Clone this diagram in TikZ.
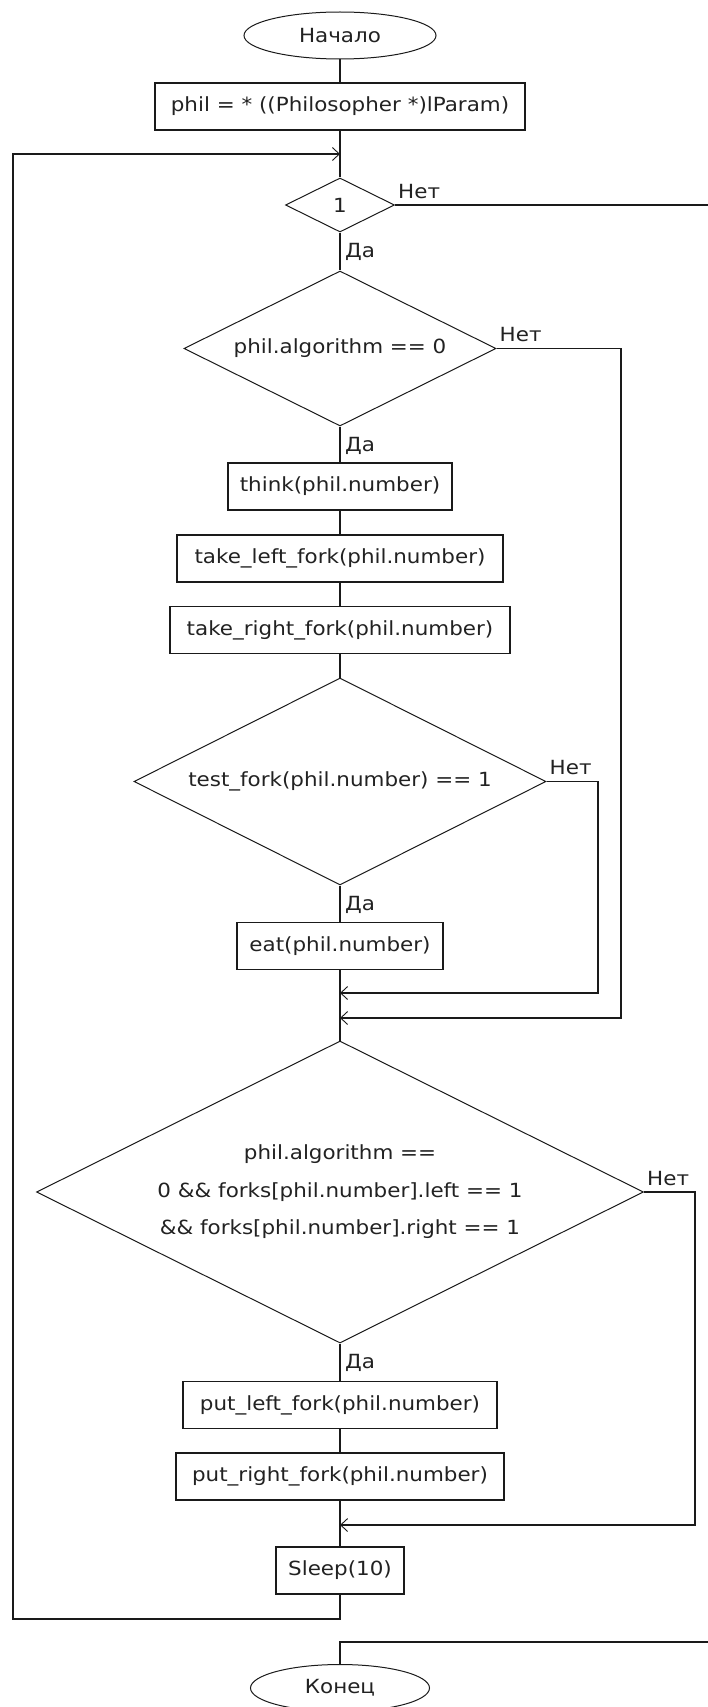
\documentclass[tikz,border=0pt]{standalone}
\usepackage{fontspec}
\setmainfont{DejaVu Sans}[FakeStretch=1.1]
\usetikzlibrary{shapes.geometric,arrows.meta}
\definecolor{linec}{HTML}{1A1A1A}
\definecolor{txtc}{HTML}{222222}
\newcommand{\flowfont}{\fontsize{19.5}{37.5}\selectfont}
\tikzset{
  base/.style={draw=linec, text=txtc, font=\flowfont, line width=1.2pt},
  stepbox/.style={base, rectangle, minimum height=47pt, inner sep=2pt},
  term/.style={base, ellipse, minimum height=47pt, inner sep=0pt, line width=1pt},
  cond/.style={base, diamond, aspect=2, inner sep=0pt, line width=1pt, align=center},
  flow/.style={draw=linec, line width=1.2pt},
  merge/.style={flow, -{Straight Barb[length=7pt,width=13pt,line width=0.9pt]}},
  lbl/.style={text=txtc, font=\flowfont, inner sep=0pt, anchor=base west},
  nolbl/.style={lbl, xshift=3pt, yshift=7pt},
  yeslbl/.style={lbl, xshift=5pt, yshift=-25pt}
}
\begin{document}
\begin{tikzpicture}[x=1pt, y=-1pt]
  \useasboundingbox (0,0) rectangle (708,1707);
  \clip (0,0) rectangle (708,1707);
  \fill[white] (0,0) rectangle (708,1707);

  % blocks along the main axis
  \node[term, minimum width=192pt] (start) at (340,35.5) {Начало};
  \node[stepbox, minimum width=370pt] (phil) at (340,106.5) {phil = * ((Philosopher *)lParam)};
  \coordinate (loopin) at (340,154);
  \node[cond, minimum width=109pt, minimum height=54pt] (d1) at (340,205) {1};
  \node[cond, minimum width=312pt, minimum height=155pt] (d2) at (340,348.5) {phil.algorithm == 0};
  \node[stepbox, minimum width=224pt] (think) at (340,486.5) {think(phil.number)};
  \node[stepbox, minimum width=326pt] (tleft) at (340,558.5) {take\_left\_fork(phil.number)};
  \node[stepbox, minimum width=340pt] (tright) at (340,630) {take\_right\_fork(phil.number)};
  \node[cond, minimum width=412pt, minimum height=207pt] (d3) at (340,781.5) {test\_fork(phil.number) == 1};
  \node[stepbox, minimum width=206pt] (eat) at (340,946) {eat(phil.number)};
  \coordinate (m1) at (340,993);
  \coordinate (m2) at (340,1018);
  \node[cond, minimum width=607pt, minimum height=302pt] (d4) at (340,1192)
    {phil.algorithm ==\\0 \&\& forks[phil.number].left == 1\\\&\& forks[phil.number].right == 1};
  \node[stepbox, minimum width=314pt] (pleft) at (340,1405) {put\_left\_fork(phil.number)};
  \node[stepbox, minimum width=328pt] (pright) at (340,1476.5) {put\_right\_fork(phil.number)};
  \coordinate (m3) at (340,1525);
  \node[stepbox, minimum width=128pt] (sleep) at (340,1570.5) {Sleep(10)};
  \node[term, minimum width=179pt] (finish) at (340,1688) {Конец};

  % straight connectors
  \draw[flow] (start) -- (phil);
  \draw[flow] (phil) -- (d1);
  \draw[flow] (d1) -- (d2);
  \draw[flow] (d2) -- (think);
  \draw[flow] (think) -- (tleft);
  \draw[flow] (tleft) -- (tright);
  \draw[flow] (tright) -- (d3);
  \draw[flow] (d3) -- (eat);
  \draw[flow] (eat.south) -- (m1) -- (m2) -- (d4.north);
  \draw[flow] (d4) -- (pleft);
  \draw[flow] (pleft) -- (pright);
  \draw[flow] (pright.south) -- (m3) -- (sleep.north);

  % branches that rejoin the axis
  \draw[merge] (d3.east) -- (598,781.5) -- (598,993) -- (m1);
  \draw[merge] (d2.east) -- (621,348.5) -- (621,1018) -- (m2);
  \draw[merge] (d4.east) -- (695,1192) -- (695,1525) -- (m3);

  % loop back to the top condition
  \draw[merge] (sleep.south) -- (340,1619) -- (13,1619) -- (13,154) -- (loopin);

  % exit of the endless loop
  \draw[flow] (d1.east) -- (720,205) -- (720,1642) -- (340,1642) -- (finish.north);

  % branch labels
  \node[nolbl] at (d1.east) {Нет};
  \node[yeslbl] at (d1.south) {Да};
  \node[nolbl] at (d2.east) {Нет};
  \node[yeslbl] at (d2.south) {Да};
  \node[nolbl] at (d3.east) {Нет};
  \node[yeslbl] at (d3.south) {Да};
  \node[nolbl] at (d4.east) {Нет};
  \node[yeslbl] at (d4.south) {Да};
\end{tikzpicture}
\end{document}
